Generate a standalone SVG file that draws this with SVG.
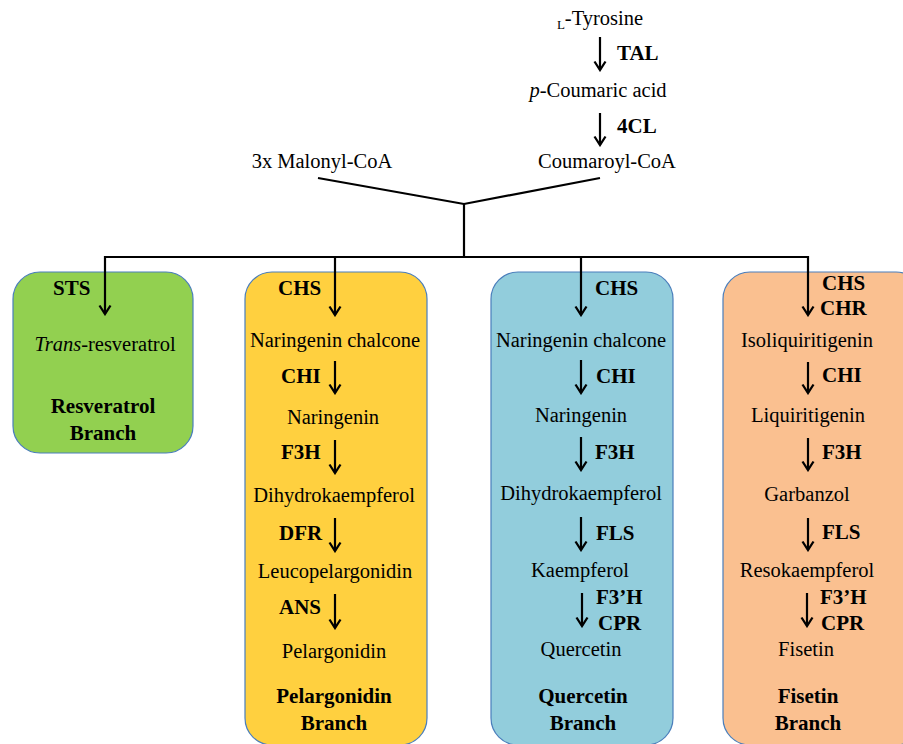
<svg xmlns="http://www.w3.org/2000/svg" width="903" height="744" viewBox="0 0 903 744" font-family="'Liberation Serif', 'Times New Roman', serif">
<defs>
<marker id="ah" viewBox="0 0 14 14" refX="12.5" refY="7" markerWidth="14" markerHeight="14" markerUnits="userSpaceOnUse" orient="auto">
<path d="M4,1.5 L12.5,7 L4,12.5" fill="none" stroke="#000" stroke-width="2.3"/>
</marker>
</defs>
<style>
text{font-family:'Liberation Serif','Times New Roman',serif}
.t{font-size:20.5px;fill:#000;text-anchor:middle}
.b{font-size:21px;font-weight:bold;fill:#000}
.bc{text-anchor:middle}
.box{stroke:#4a7ebb;stroke-width:1.2}
.ln{stroke:#000;stroke-width:2.2;fill:none}
.ar{stroke:#000;stroke-width:2.2;fill:none;marker-end:url(#ah)}
</style>
<rect width="903" height="744" fill="#fff"/>

<g id="top">
<text class="t" x="600" y="25"><tspan font-size="13" dy="4">L</tspan><tspan dy="-4">-Tyrosine</tspan></text>
<text class="b" x="617" y="60">TAL</text>
<text class="t" x="598" y="97"><tspan font-style="italic">p</tspan>-Coumaric acid</text>
<text class="b" x="617" y="133">4CL</text>
<text class="t" x="322" y="168">3x Malonyl-CoA</text>
<text class="t" x="607" y="168">Coumaroyl-CoA</text>
</g>

<g id="resveratrol">
<rect class="box" x="13" y="272" width="180" height="181" rx="27" fill="#92d050"/>
<text class="b" x="53" y="295">STS</text>
<text class="t" x="105" y="351"><tspan font-style="italic">Trans</tspan>-resveratrol</text>
<text class="b bc" x="103" y="413">Resveratrol</text>
<text class="b bc" x="103" y="440">Branch</text>
</g>

<g id="pelargonidin">
<rect class="box" x="245" y="272" width="182" height="473" rx="27" fill="#ffd03f"/>
<text class="b" x="278" y="295">CHS</text>
<text class="t" x="335" y="347">Naringenin chalcone</text>
<text class="b" x="281" y="383">CHI</text>
<text class="t" x="333" y="424">Naringenin</text>
<text class="b" x="281" y="459">F3H</text>
<text class="t" x="334" y="502">Dihydrokaempferol</text>
<text class="b" x="279" y="540">DFR</text>
<text class="t" x="335" y="578">Leucopelargonidin</text>
<text class="b" x="279" y="614">ANS</text>
<text class="t" x="334" y="658">Pelargonidin</text>
<text class="b bc" x="334" y="703">Pelargonidin</text>
<text class="b bc" x="334" y="730">Branch</text>
</g>

<g id="quercetin">
<rect class="box" x="491" y="272" width="182" height="473" rx="27" fill="#92cddc"/>
<text class="b" x="595" y="295">CHS</text>
<text class="t" x="581" y="347">Naringenin chalcone</text>
<text class="b" x="596" y="383">CHI</text>
<text class="t" x="581" y="422">Naringenin</text>
<text class="b" x="595" y="459">F3H</text>
<text class="t" x="581" y="500">Dihydrokaempferol</text>
<text class="b" x="596" y="540">FLS</text>
<text class="t" x="580" y="577">Kaempferol</text>
<text class="b" x="596" y="604">F3’H</text>
<text class="b" x="598" y="630">CPR</text>
<text class="t" x="581" y="656">Quercetin</text>
<text class="b bc" x="583" y="703">Quercetin</text>
<text class="b bc" x="583" y="730">Branch</text>
</g>

<g id="fisetin">
<rect class="box" x="723" y="272" width="200" height="473" rx="27" fill="#fac090"/>
<text class="b" x="822" y="290">CHS</text>
<text class="b" x="820" y="315">CHR</text>
<text class="t" x="807" y="347">Isoliquiritigenin</text>
<text class="b" x="822" y="382">CHI</text>
<text class="t" x="808" y="422">Liquiritigenin</text>
<text class="b" x="822" y="459">F3H</text>
<text class="t" x="807" y="501">Garbanzol</text>
<text class="b" x="822" y="539">FLS</text>
<text class="t" x="807" y="577">Resokaempferol</text>
<text class="b" x="820" y="604">F3’H</text>
<text class="b" x="821" y="630">CPR</text>
<text class="t" x="806" y="656">Fisetin</text>
<text class="b bc" x="808" y="703">Fisetin</text>
<text class="b bc" x="808" y="730">Branch</text>
</g>

<g id="connectors">
<line class="ar" x1="600" y1="37" x2="600" y2="70"/>
<line class="ar" x1="600" y1="113" x2="600" y2="145"/>
<polyline class="ln" points="318,178 464,204 600,178"/>
<line class="ln" x1="464" y1="204" x2="464" y2="257"/>
<line class="ln" x1="104" y1="257" x2="809" y2="257"/>
<line class="ar" x1="105" y1="256" x2="105" y2="314"/>
<line class="ar" x1="335" y1="256" x2="335" y2="315"/>
<line class="ar" x1="581" y1="256" x2="581" y2="315"/>
<line class="ar" x1="808" y1="256" x2="808" y2="315"/>
<line class="ar" x1="335" y1="361" x2="335" y2="393"/>
<line class="ar" x1="335" y1="440" x2="335" y2="473"/>
<line class="ar" x1="335" y1="518" x2="335" y2="551"/>
<line class="ar" x1="335" y1="594" x2="335" y2="628"/>
<line class="ar" x1="581" y1="360" x2="581" y2="393"/>
<line class="ar" x1="581" y1="437" x2="581" y2="470"/>
<line class="ar" x1="581" y1="517" x2="581" y2="550"/>
<line class="ar" x1="582" y1="593" x2="582" y2="626"/>
<line class="ar" x1="808" y1="362" x2="808" y2="393"/>
<line class="ar" x1="808" y1="438" x2="808" y2="470"/>
<line class="ar" x1="808" y1="518" x2="808" y2="550"/>
<line class="ar" x1="807" y1="593" x2="807" y2="626"/>
</g>
</svg>
